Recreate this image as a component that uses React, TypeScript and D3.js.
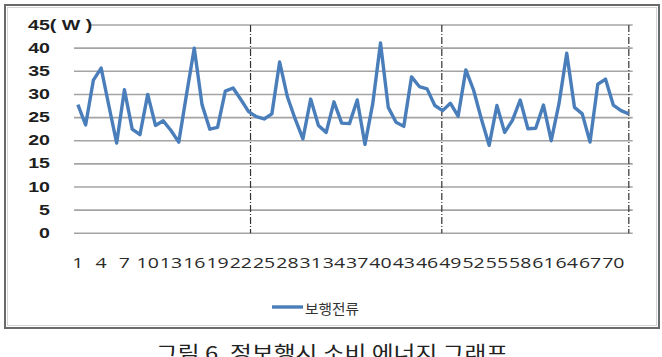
import React from "react";
import * as d3 from "d3";

const values: number[] = [
  27.8, 23.4, 33.1, 35.7, 27.5, 19.5, 31.0, 22.5, 21.3, 30.0,
  23.3, 24.3, 22.2, 19.7, 30.0, 40.0, 27.8, 22.5, 22.9, 30.7,
  31.4, 28.9, 26.3, 25.2, 24.7, 25.8, 37.0, 29.5, 24.7, 20.4,
  29.0, 23.3, 21.8, 28.4, 23.8, 23.7, 28.8, 19.2, 28.0, 41.1,
  27.2, 24.0, 23.1, 33.8, 31.7, 31.2, 27.6, 26.5, 28.1, 25.3,
  35.3, 30.9, 24.7, 19.0, 27.6, 21.8, 24.4, 28.8, 22.6, 22.7,
  27.7, 20.0, 28.0, 38.9, 27.2, 25.8, 19.7, 32.2, 33.3, 27.7,
  26.5, 25.8,
];
const categories: number[] = values.map((_, i) => i + 1);
const xTickLabels: number[] = categories.filter((c) => (c - 1) % 3 === 0);
const yTicks: number[] = [0, 5, 10, 15, 20, 25, 30, 35, 40];
const yTop = 45;
const yUnit = "( W )";
const separators: number[] = [23.25, 47.9, 72];
const legendLabel = "보행전류";
const caption = "그림 6. 정보행시 소비 에너지 그래프";

const SX = 1.4;

export default function App() {
  const plotLeft = 74;
  const plotRight = 632.7;
  const bandW = (plotRight - plotLeft) / categories.length;
  const x = d3
    .scaleLinear()
    .domain([1, categories.length])
    .range([plotLeft + bandW / 2, plotRight - bandW / 2]);
  const y = d3.scaleLinear().domain([0, yTop]).range([233.3, 25]);

  const line = d3
    .line<number>()
    .x((_, i) => x(categories[i]))
    .y((d) => y(d));

  const lineColor = "#4a7ebb";
  const gridColor = "#a4a4a4";

  return (
    <svg
      width={662}
      height={357}
      style={{ position: "absolute", left: 0, top: 0, background: "#fff" }}
    >
      <rect x={0} y={0} width={662} height={357} fill="#fff" />
      {/* frame */}
      <rect x={5} y={5} width={654} height={323} fill="none" stroke="#6a6a6a" strokeWidth={2} />
      <rect x={7.5} y={7.5} width={649} height={318} fill="none" stroke="#d4d4d4" strokeWidth={1} />

      {/* gridlines */}
      {yTicks.map((t) => (
        <line
          key={t}
          x1={plotLeft}
          x2={plotRight}
          y1={y(t)}
          y2={y(t)}
          stroke={gridColor}
          strokeWidth={1.6}
        />
      ))}
      <line x1={90} x2={plotRight} y1={y(yTop)} y2={y(yTop)} stroke={gridColor} strokeWidth={1.6} />

      {/* separators */}
      {separators.map((s) => (
        <line
          key={s}
          x1={x(s)}
          x2={x(s)}
          y1={y(yTop)}
          y2={y(0)}
          stroke="#333"
          strokeWidth={1.2}
          strokeDasharray="7,2,1,2"
        />
      ))}

      {/* y labels */}
      {yTicks.map((t) => (
        <text
          key={t}
          transform={`translate(50,${y(t)}) scale(${SX},1)`}
          textAnchor="end"
          dominantBaseline="central"
          fontFamily="Liberation Sans, Arial, sans-serif"
          fontWeight="bold"
          fontSize={14}
          fill="#1e1e1e"
        >
          {t}
        </text>
      ))}
      <text
        transform={`translate(28,${y(yTop)}) scale(${SX},1)`}
        textAnchor="start"
        dominantBaseline="central"
        fontFamily="Liberation Sans, Arial, sans-serif"
        fontWeight="bold"
        fontSize={14}
        fill="#1e1e1e"
      >
        {yTop}
        {yUnit}
      </text>

      {/* data line */}
      <path
        d={line(values) || ""}
        fill="none"
        stroke={lineColor}
        strokeWidth={3.4}
        strokeLinejoin="round"
      />

      {/* x labels */}
      {xTickLabels.map((c) => (
        <text
          key={c}
          transform={`translate(${x(c)},262) scale(1.3,1)`}
          textAnchor="middle"
          dominantBaseline="central"
          fontFamily="Open Sans, Liberation Sans, sans-serif"
          fontSize={15}
          fill="#2a2a2a"
        >
          {c}
        </text>
      ))}

      {/* legend */}
      <line x1={272} x2={303} y1={307} y2={307} stroke={lineColor} strokeWidth={3.4} />
      <text
        transform={`translate(305,308) scale(1.05,1)`}
        dominantBaseline="central"
        fontFamily="Noto Sans CJK KR, sans-serif"
        fontSize={14}
        fill="#333"
      >
        {legendLabel}
      </text>

      {/* caption (cut off at the bottom, as in the reference) */}
      <text
        transform={`translate(332,360) scale(1.25,1)`}
        textAnchor="middle"
        fontFamily="Noto Sans CJK KR, sans-serif"
        fontSize={19}
        fill="#222"
      >
        {caption}
      </text>
    </svg>
  );
}
